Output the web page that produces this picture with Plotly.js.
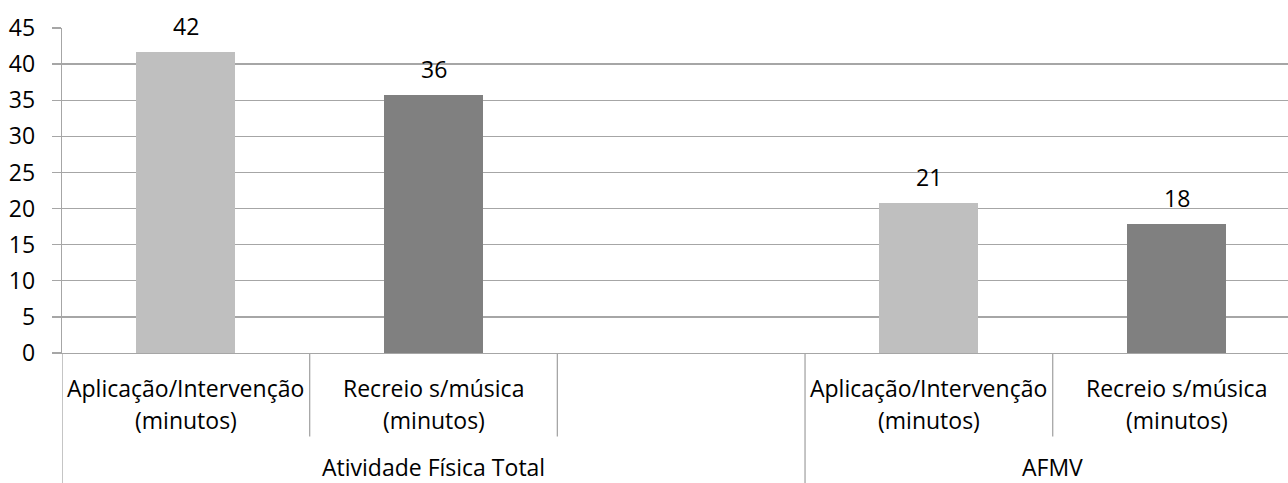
<!DOCTYPE html>
<html>
<head>
<meta charset="utf-8">
<script src="https://cdn.plot.ly/plotly-3.0.1.min.js"></script>
<style>html,body{margin:0;padding:0;background:#fff;}#chart{width:1288px;height:483px;}</style>
</head>
<body>
<div id="chart"></div>
<script>
// Data
var subCategories = ['Aplicação/Intervenção<br>(minutos)', 'Recreio s/música<br>(minutos)', '', 'Aplicação/Intervenção<br>(minutos)', 'Recreio s/música<br>(minutos)'];
var groups = ['Atividade Física Total', 'AFMV'];
var groupSpans = [[0, 2], [3, 4]];
var values = [41.7, 35.7, null, 20.8, 17.9];
var valueLabels = ['42', '36', '', '21', '18'];
var barColors = ['#bfbfbf', '#808080', '#bfbfbf', '#bfbfbf', '#808080'];
var yTicks = [0, 5, 10, 15, 20, 25, 30, 35, 40, 45];

var FONT = '"Open Sans", Carlito, Calibri, sans-serif';
var FS = 23;
var GRID = '#a6a6a6';
var xIdx = subCategories.map(function (_, i) { return i; });

var trace = {
  type: 'bar',
  x: xIdx,
  y: values,
  width: 0.4,
  marker: { color: barColors, line: { width: 0 } },
  hoverinfo: 'skip',
  showlegend: false
};

var annotations = [];
// value labels
values.forEach(function (v, i) {
  if (v === null) return;
  annotations.push({
    x: i, y: v, xref: 'x', yref: 'y', text: valueLabels[i], showarrow: false,
    yanchor: 'middle', yshift: 26, borderpad: 0, font: { family: FONT, size: FS, color: '#000' }
  });
});
// sub-category labels (one annotation per line)
var lineY = [-0.107, -0.205];
subCategories.forEach(function (c, i) {
  if (!c) return;
  c.split('<br>').forEach(function (part, j) {
    annotations.push({
      x: i, y: lineY[j], xref: 'x', yref: 'paper', text: part, showarrow: false,
      yanchor: 'middle', align: 'center', borderpad: 0, font: { family: FONT, size: FS, color: '#000' }
    });
  });
});
// group labels
groups.forEach(function (g, k) {
  var s = groupSpans[k];
  annotations.push({
    x: (s[0] + s[1]) / 2, y: -0.35, xref: 'x', yref: 'paper', text: g, showarrow: false,
    yanchor: 'middle', borderpad: 0, font: { family: FONT, size: FS, color: '#000' }
  });
});

var shapes = [];
// short dividers between sub-categories
[0.5, 1.5, 3.5].forEach(function (xv) {
  shapes.push({ type: 'line', xref: 'x', yref: 'paper', x0: xv, x1: xv, y0: 0, y1: -0.257, line: { color: GRID, width: 1.3 } });
});
// full-height dividers between groups and left edge
[-0.5, 2.5].forEach(function (xv) {
  shapes.push({ type: 'line', xref: 'x', yref: 'paper', x0: xv, x1: xv, y0: 0, y1: -0.42, line: { color: GRID, width: 1.3 } });
});

var layout = {
  width: 1288, height: 483,
  margin: { l: 62, r: 0, t: 28, b: 130, pad: 0 },
  paper_bgcolor: '#fff', plot_bgcolor: '#fff',
  font: { family: FONT, size: FS, color: '#000' },
  xaxis: {
    range: [-0.5, 4.45], showticklabels: false, showgrid: false, zeroline: false,
    showline: true, linecolor: GRID, linewidth: 1.3, ticks: '', fixedrange: true
  },
  yaxis: {
    range: [0, 45], tickvals: yTicks, ticktext: yTicks.map(String),
    showgrid: true, gridcolor: GRID, gridwidth: 1.3, zeroline: false,
    showline: true, linecolor: GRID, linewidth: 1.3,
    ticks: 'outside', ticklen: 9, tickcolor: GRID, tickwidth: 1.3,
    ticklabelstandoff: 12,
    tickfont: { family: FONT, size: FS, color: '#000' }, fixedrange: true
  },
  annotations: annotations,
  shapes: shapes,
  bargap: 0
};

Plotly.newPlot('chart', [trace], layout, { displayModeBar: false, staticPlot: true });
</script>
</body>
</html>
